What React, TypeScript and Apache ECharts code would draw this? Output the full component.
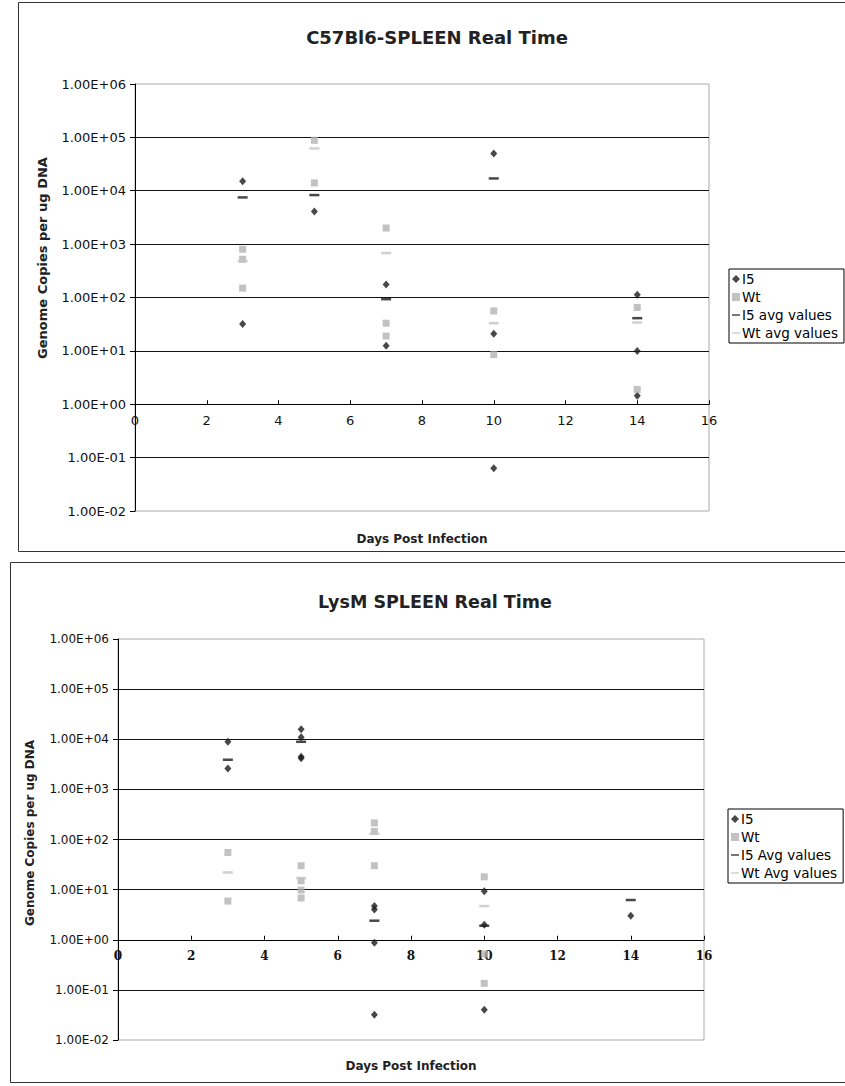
import React, { useEffect, useRef } from 'react';
import * as echarts from 'echarts';

// ---------- data: C57Bl6-SPLEEN ----------
const topTitle = 'C57Bl6-SPLEEN Real Time';
const topNames = ['I5', 'Wt', 'I5 avg values', 'Wt avg values'];
const topI5: number[][] = [
  [3, 15000], [3, 32],
  [5, 4100],
  [7, 175], [7, 12.5],
  [10, 50000], [10, 21], [10, 0.063],
  [14, 112], [14, 10], [14, 1.45],
];
const topWt: number[][] = [
  [3, 800], [3, 520], [3, 150],
  [5, 88000], [5, 14000],
  [7, 2000], [7, 33], [7, 19],
  [10, 56], [10, 8.5],
  [14, 65], [14, 1.9],
];
const topI5Avg: number[][] = [[3, 7500], [5, 8300], [7, 93], [10, 17000], [14, 41]];
const topWtAvg: number[][] = [[3, 480], [5, 62000], [7, 680], [10, 33], [14, 34]];

// ---------- data: LysM SPLEEN ----------
const botTitle = 'LysM SPLEEN Real Time';
const botNames = ['I5', 'Wt', 'I5 Avg values', 'Wt Avg values'];
const botI5: number[][] = [
  [3, 8900], [3, 2600],
  [5, 15800], [5, 11000], [5, 4500], [5, 4200],
  [7, 4.7], [7, 4.0], [7, 0.87], [7, 0.032],
  [10, 9.3], [10, 2.0], [10, 0.04],
  [14, 3.0],
];
const botWt: number[][] = [
  [3, 55], [3, 5.9],
  [5, 30], [5, 15], [5, 9.8], [5, 6.8],
  [7, 214], [7, 145], [7, 30],
  [10, 18], [10, 0.52], [10, 0.135],
];
const botI5Avg: number[][] = [[3, 3900], [5, 8900], [7, 2.4], [10, 1.9], [14, 6.2]];
const botWtAvg: number[][] = [[3, 22], [5, 17], [7, 130], [10, 4.7]];

// axis ranges and titles
const xMin = 0;
const xMax = 16;
const xStep = 2;
const yMin = 0.01;
const yMax = 1e6;
const xTitle = 'Days Post Infection';
const yTitle = 'Genome Copies per ug DNA';

const SANS = 'DejaVu Sans';
const SERIF = 'DejaVu Serif';

const dashIcon =
  'path://M0,0h0.01v0.01h-0.01z M0,4.1h10v1.8h-10z M9.99,9.99h0.01v0.01h-0.01z';

function expLabel(v: number): string {
  const e = Math.round(Math.log10(v));
  const s = e < 0 ? '-' : '+';
  return `1.00E${s}${String(Math.abs(e)).padStart(2, '0')}`;
}

interface Cfg {
  title: string;
  titleX: number;
  titleY: number;
  titleSize: number;
  names: string[];
  i5: number[][];
  wt: number[][];
  i5Avg: number[][];
  wtAvg: number[][];
  left: number;
  top: number;
  width: number;
  height: number;
  yFont: number;
  xFont: number;
  xFontFamily: string;
  xFontWeight: string;
  yTitleX: number;
  yTitleY: number;
  yTitleSize: number;
  xNameGap: number;
  legendLeft: number;
  legendTop: number;
  box: number[];
}

function buildOption(c: Cfg): any {
  const axisBlack = { color: '#000', width: 1 };
  return {
    animation: false,
    backgroundColor: '#fff',
    title: {
      text: c.title,
      left: c.titleX,
      top: c.titleY,
      textAlign: 'center',
      textStyle: { fontFamily: SANS, fontWeight: 'bold', fontSize: c.titleSize, color: '#222' },
    },
    legend: {
      orient: 'vertical',
      left: c.legendLeft,
      top: c.legendTop,
      itemWidth: 8,
      itemHeight: 8,
      itemGap: 4,
      padding: [3, 6, 3, 3],
      borderColor: '#000',
      borderWidth: 1,
      backgroundColor: '#fff',
      textStyle: { fontFamily: SANS, fontSize: 13.5, color: '#000', padding: [0, 0, 0, -3] },
      data: [
        { name: c.names[0], icon: 'diamond' },
        { name: c.names[1], icon: 'rect' },
        { name: c.names[2], icon: dashIcon },
        { name: c.names[3], icon: dashIcon },
      ],
    },
    grid: [
      {
        left: c.left, top: c.top, width: c.width, height: c.height,
        show: true, borderColor: '#aaa', borderWidth: 1, backgroundColor: 'transparent',
      },
      {
        left: c.left, top: c.top, width: c.width, height: (c.height * 6) / 8,
        show: false,
      },
    ],
    xAxis: [
      {
        gridIndex: 0, type: 'value', min: xMin, max: xMax, interval: xStep,
        name: xTitle, nameLocation: 'middle', nameGap: c.xNameGap,
        nameTextStyle: { fontFamily: SANS, fontWeight: 'bold', fontSize: 12, color: '#222' },
        axisLine: { show: false }, axisTick: { show: false }, axisLabel: { show: false },
        splitLine: { show: false },
      },
      {
        gridIndex: 1, type: 'value', min: xMin, max: xMax, interval: xStep,
        axisLine: { show: true, onZero: false, lineStyle: axisBlack },
        axisTick: { show: true, inside: true, length: 4, lineStyle: axisBlack },
        axisLabel: {
          fontFamily: c.xFontFamily, fontWeight: c.xFontWeight, fontSize: c.xFont,
          color: '#111', margin: 10,
        },
        splitLine: { show: false },
      },
    ],
    yAxis: [
      {
        gridIndex: 0, type: 'log', logBase: 10, min: yMin, max: yMax, splitNumber: 8,
        axisLine: { show: true, onZero: false, lineStyle: axisBlack },
        axisTick: { show: true, length: 5, lineStyle: axisBlack },
        minorTick: { show: false },
        axisLabel: {
          formatter: expLabel, fontFamily: SANS, fontSize: c.yFont, color: '#111', margin: 9,
        },
        splitLine: {
          show: true, showMinLine: false, showMaxLine: false,
          lineStyle: { color: '#111', width: 1 },
        },
      },
      {
        gridIndex: 1, type: 'log', logBase: 10, min: 1, max: yMax, show: false,
        splitLine: { show: false },
      },
    ],
    series: [
      {
        name: c.names[0], type: 'scatter', xAxisIndex: 0, yAxisIndex: 0,
        symbol: 'diamond', symbolSize: [7, 8], itemStyle: { color: '#1a1a1a' },
        data: c.i5,
      },
      {
        name: c.names[1], type: 'scatter', xAxisIndex: 0, yAxisIndex: 0,
        symbol: 'rect', symbolSize: [7, 7], itemStyle: { color: '#b3b3b3' },
        data: c.wt,
      },
      {
        name: c.names[2], type: 'scatter', xAxisIndex: 0, yAxisIndex: 0,
        symbol: 'rect', symbolSize: [10, 2.5], itemStyle: { color: '#1a1a1a' },
        data: c.i5Avg,
      },
      {
        name: c.names[3], type: 'scatter', xAxisIndex: 0, yAxisIndex: 0,
        symbol: 'rect', symbolSize: [10, 2.5], itemStyle: { color: '#c4c4c4' },
        data: c.wtAvg,
      },
    ],
    graphic: [
      {
        type: 'rect', silent: true, z: -10,
        shape: { x: c.box[0], y: c.box[1], width: c.box[2], height: c.box[3] },
        style: { fill: 'none', stroke: '#333', lineWidth: 1 },
      },
      {
        type: 'text', silent: true,
        x: c.yTitleX, y: c.yTitleY, rotation: Math.PI / 2,
        style: {
          text: yTitle, fontFamily: SANS, fontWeight: 'bold', fontSize: c.yTitleSize,
          fill: '#222', align: 'center', verticalAlign: 'middle',
        },
      },
    ],
  };
}

const topCfg: Cfg = {
  title: topTitle, titleX: 432, titleY: 23, titleSize: 18,
  names: topNames, i5: topI5, wt: topWt, i5Avg: topI5Avg, wtAvg: topWtAvg,
  left: 135, top: 84, width: 574, height: 427,
  yFont: 13, xFont: 13, xFontFamily: SANS, xFontWeight: 'normal',
  yTitleX: 42, yTitleY: 258, yTitleSize: 13,
  xNameGap: 22,
  legendLeft: 729, legendTop: 269,
  box: [18.5, 2.5, 840, 549],
};

const botCfg: Cfg = {
  title: botTitle, titleX: 430, titleY: 31, titleSize: 17.5,
  names: botNames, i5: botI5, wt: botWt, i5Avg: botI5Avg, wtAvg: botWtAvg,
  left: 118, top: 82, width: 586, height: 401,
  yFont: 12, xFont: 12, xFontFamily: SERIF, xFontWeight: 'bold',
  yTitleX: 30, yTitleY: 276, yTitleSize: 12,
  xNameGap: 20,
  legendLeft: 728, legendTop: 252,
  box: [10.5, 5.5, 840, 520],
};

function ChartBox(props: { cfg: Cfg; top: number; height: number }) {
  const ref = useRef<HTMLDivElement>(null);
  useEffect(() => {
    if (!ref.current) return;
    const chart = echarts.init(ref.current, undefined, { renderer: 'svg' });
    chart.setOption(buildOption(props.cfg));
    return () => chart.dispose();
  }, [props.cfg]);
  return (
    <div
      ref={ref}
      style={{ position: 'absolute', left: 0, top: props.top, width: 845, height: props.height }}
    />
  );
}

export default function App() {
  return (
    <div style={{ position: 'absolute', left: 0, top: 0, width: 845, height: 1086, background: '#fff' }}>
      <ChartBox cfg={topCfg} top={0} height={557} />
      <ChartBox cfg={botCfg} top={557} height={529} />
    </div>
  );
}
